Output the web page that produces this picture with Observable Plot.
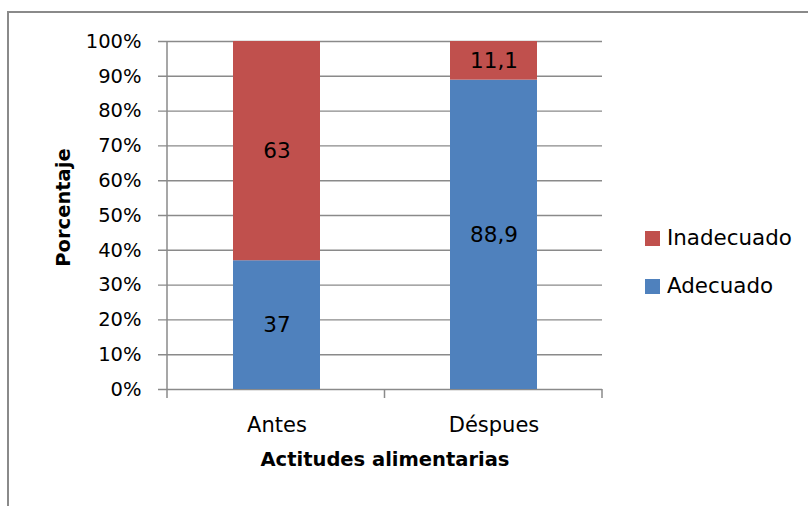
<!DOCTYPE html>
<html><head><meta charset="utf-8">
<script src="https://cdn.jsdelivr.net/npm/d3@7"></script>
<script src="https://cdn.jsdelivr.net/npm/@observablehq/plot@0.6"></script>
<style>
html,body{margin:0;padding:0;background:#fff;}
#wrap{position:relative;width:808px;height:506px;overflow:hidden;font-family:"DejaVu Sans",sans-serif;color:#000;}
#wrap svg{position:absolute;left:0;top:0;}
#border{position:absolute;left:7px;top:11px;right:-10px;bottom:-10px;border-left:2px solid #8a8a8a;border-top:2px solid #8a8a8a;}
#legend{position:absolute;left:645px;top:226px;display:flex;flex-direction:column;gap:24px;}
.item{display:flex;align-items:center;white-space:nowrap;font-size:21.4px;line-height:24px;}
.sw{width:15px;height:15px;margin-right:7px;display:inline-block;}
</style></head><body>
<div id="wrap"><div id="border"></div></div>
<script>
const categories = ["Antes", "Déspues"];
const seriesNames = ["Adecuado", "Inadecuado"];
const adecuado = [37, 88.9];
const inadecuado = [63, 11.1];
const yTicks = [0, 10, 20, 30, 40, 50, 60, 70, 80, 90, 100];
const seriesColors = ["#4f81bd", "#c0504d"];
const legendOrder = ["Inadecuado", "Adecuado"];
const xTitle = "Actitudes alimentarias";
const yTitle = "Porcentaje";

const table = [];
categories.forEach((c, i) => {
  table.push({cat: c, series: "Adecuado", value: adecuado[i]});
  table.push({cat: c, series: "Inadecuado", value: inadecuado[i]});
});
const fmt = v => String(v).replace(".", ",");
const lineColor = "#8a8a8a";

function axisLines(index, scales, values, dims) {
  const g = d3.create("svg:g");
  const left = dims.marginLeft, right = dims.width - dims.marginRight;
  const y0 = scales.y(0), yTop = scales.y(100);
  const n = categories.length;
  g.append("line").attr("x1", left).attr("x2", left).attr("y1", yTop).attr("y2", y0 + 9)
    .attr("stroke", lineColor).attr("stroke-width", 1.5);
  for (let i = 1; i <= n; i++) {
    const bx = left + i * (right - left) / n;
    g.append("line").attr("x1", bx).attr("x2", bx).attr("y1", y0).attr("y2", y0 + 9)
      .attr("stroke", lineColor).attr("stroke-width", 1.5);
  }
  return g.node();
}

const chart = Plot.plot({
  width: 808,
  height: 506,
  marginLeft: 167,
  marginRight: 206,
  marginTop: 41,
  marginBottom: 117,
  style: {fontFamily: '"DejaVu Sans", sans-serif', color: "#000", background: "transparent", overflow: "visible"},
  x: {type: "band", domain: categories, paddingInner: 0.6, paddingOuter: 0.3, label: null},
  y: {domain: [0, 100], label: null},
  color: {domain: seriesNames, range: seriesColors},
  marks: [
    Plot.gridY(yTicks, {stroke: lineColor, strokeOpacity: 1, strokeWidth: 1.4, insetLeft: -9}),
    Plot.barY(table, Plot.stackY({x: "cat", y: "value", fill: "series", order: seriesNames})),
    Plot.text(table, Plot.stackY({x: "cat", y: "value", z: "series", order: seriesNames,
      text: d => fmt(d.value), fontSize: 21.5, fill: "#000"})),
    Plot.axisY({ticks: yTicks, tickSize: 0, tickPadding: 26, tickFormat: d => d + "%", fontSize: 19.5, label: null}),
    Plot.axisX({tickSize: 0, tickPadding: 28, fontSize: 21, label: null}),
    axisLines,
    Plot.text([xTitle], {frameAnchor: "bottom", dy: 76, fontSize: 19.5, fontWeight: "bold", fill: "#000"}),
    Plot.text([yTitle], {frameAnchor: "left", textAnchor: "middle", rotate: -90, dx: -104, dy: -8, fontSize: 19.5, fontWeight: "bold", fill: "#000"})
  ]
});
document.getElementById("wrap").appendChild(chart);

const legend = document.createElement("div");
legend.id = "legend";
legendOrder.forEach(name => {
  const item = document.createElement("div");
  item.className = "item";
  const sw = document.createElement("span");
  sw.className = "sw";
  sw.style.background = seriesColors[seriesNames.indexOf(name)];
  item.appendChild(sw);
  item.appendChild(document.createTextNode(name));
  legend.appendChild(item);
});
document.getElementById("wrap").appendChild(legend);
</script>
</body></html>
